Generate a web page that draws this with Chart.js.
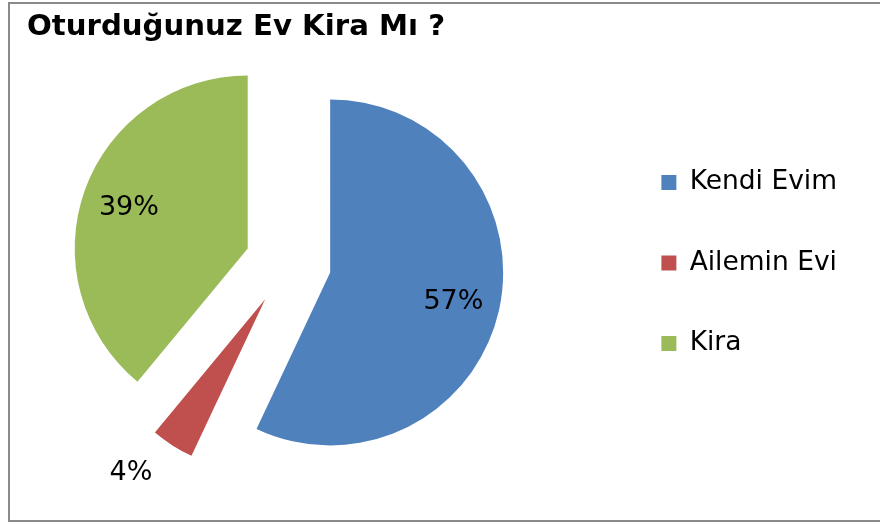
<!DOCTYPE html>
<html>
<head>
<meta charset="utf-8">
<script src="https://cdn.jsdelivr.net/npm/chart.js@4.4.1/dist/chart.umd.min.js"></script>
<style>
    html, body { margin: 0; padding: 0; background: #fff; overflow: hidden; }
    #wrap { position: relative; width: 880px; height: 525px; overflow: hidden; }
    /* the plot area reaches a bit past the left edge, so the canvas hangs off it */
    #chart { position: absolute; left: -31px; top: 0; }
    #frame { position: absolute; left: 8px; top: 2px; width: 900px; height: 516px; border: 2px solid #8a8a8a; pointer-events: none; }
</style>
</head>
<body>
<div id="wrap">
    <canvas id="chart" width="911" height="525"></canvas>
    <div id="frame"></div>
</div>
<script>
// Data
const categories = ['Kendi Evim', 'Ailemin Evi', 'Kira'];
const shares = [57, 4, 39];
const sliceColors = ['#4F81BD', '#C0504D', '#9BBB59'];
const chartTitle = 'Oturduğunuz Ev Kira Mı ?';

const FONT = "'DejaVu Sans', Verdana, sans-serif";
const EXPLODE = 43;      // how far every slice is pulled out from the centre
const TITLE_LEFT = 58;   // canvas x of the title (27px on screen)

// pull each slice out along its own bisector, then skip the default draw
const explodePlugin = {
    id: 'explode',
    beforeDatasetDraw(chart, args) {
        const ctx = chart.ctx;
        args.meta.data.forEach(arc => {
            const mid = (arc.startAngle + arc.endAngle) / 2;
            ctx.save();
            ctx.translate(Math.cos(mid) * EXPLODE, Math.sin(mid) * EXPLODE);
            arc.draw(ctx);
            ctx.restore();
        });
        return false;
    }
};

// percent labels: inside the big slices, outside the small one
const percentLabels = {
    id: 'percentLabels',
    afterDatasetsDraw(chart) {
        const ctx = chart.ctx;
        const meta = chart.getDatasetMeta(0);
        const data = chart.data.datasets[0].data;
        const total = data.reduce((a, b) => a + b, 0);
        ctx.save();
        ctx.fillStyle = '#000';
        ctx.font = '27px ' + FONT;
        meta.data.forEach((arc, i) => {
            const mid = (arc.startAngle + arc.endAngle) / 2;
            const cx = arc.x + Math.cos(mid) * EXPLODE;
            const cy = arc.y + Math.sin(mid) * EXPLODE;
            const pct = Math.round(data[i] / total * 100) + '%';
            if (data[i] / total >= 0.1) {
                const r = arc.outerRadius * 0.73;
                ctx.textAlign = 'center';
                ctx.textBaseline = 'middle';
                ctx.fillText(pct, cx + Math.cos(mid) * r, cy + Math.sin(mid) * r + 2);
            } else {
                const ox = cx + Math.cos(mid) * arc.outerRadius;
                const oy = cy + Math.sin(mid) * arc.outerRadius;
                ctx.textAlign = Math.cos(mid) < 0 ? 'right' : 'left';
                ctx.textBaseline = Math.sin(mid) > 0 ? 'top' : 'bottom';
                ctx.fillText(pct, ox + Math.sign(Math.cos(mid)) * 20, oy + Math.sign(Math.sin(mid)) * 14);
            }
        });
        ctx.restore();
    }
};

// the title starts further right than the plot area
const titleShift = {
    id: 'titleShift',
    afterLayout(chart) {
        if (chart.titleBlock) chart.titleBlock.left = TITLE_LEFT;
    }
};

Chart.defaults.color = '#000';
Chart.defaults.font.family = FONT;

new Chart(document.getElementById('chart'), {
    type: 'pie',
    data: {
        labels: categories,
        datasets: [{
            data: shares,
            backgroundColor: sliceColors,
            borderWidth: 0,
            radius: 173
        }]
    },
    options: {
        responsive: false,
        animation: false,
        events: [],
        layout: { padding: { left: 0, right: 33, top: 0, bottom: 54 } },
        plugins: {
            title: {
                display: true,
                text: chartTitle,
                align: 'start',
                color: '#000',
                font: { size: 29.2, weight: 'bold', family: FONT },
                padding: { top: 10, bottom: 10 }
            },
            legend: {
                position: 'right',
                fullSize: false,
                labels: {
                    boxWidth: 15,
                    boxHeight: 15,
                    padding: 54,
                    color: '#000',
                    font: { size: 26.5, family: FONT }
                }
            },
            tooltip: { enabled: false }
        }
    },
    plugins: [explodePlugin, percentLabels, titleShift]
});
</script>
</body>
</html>
